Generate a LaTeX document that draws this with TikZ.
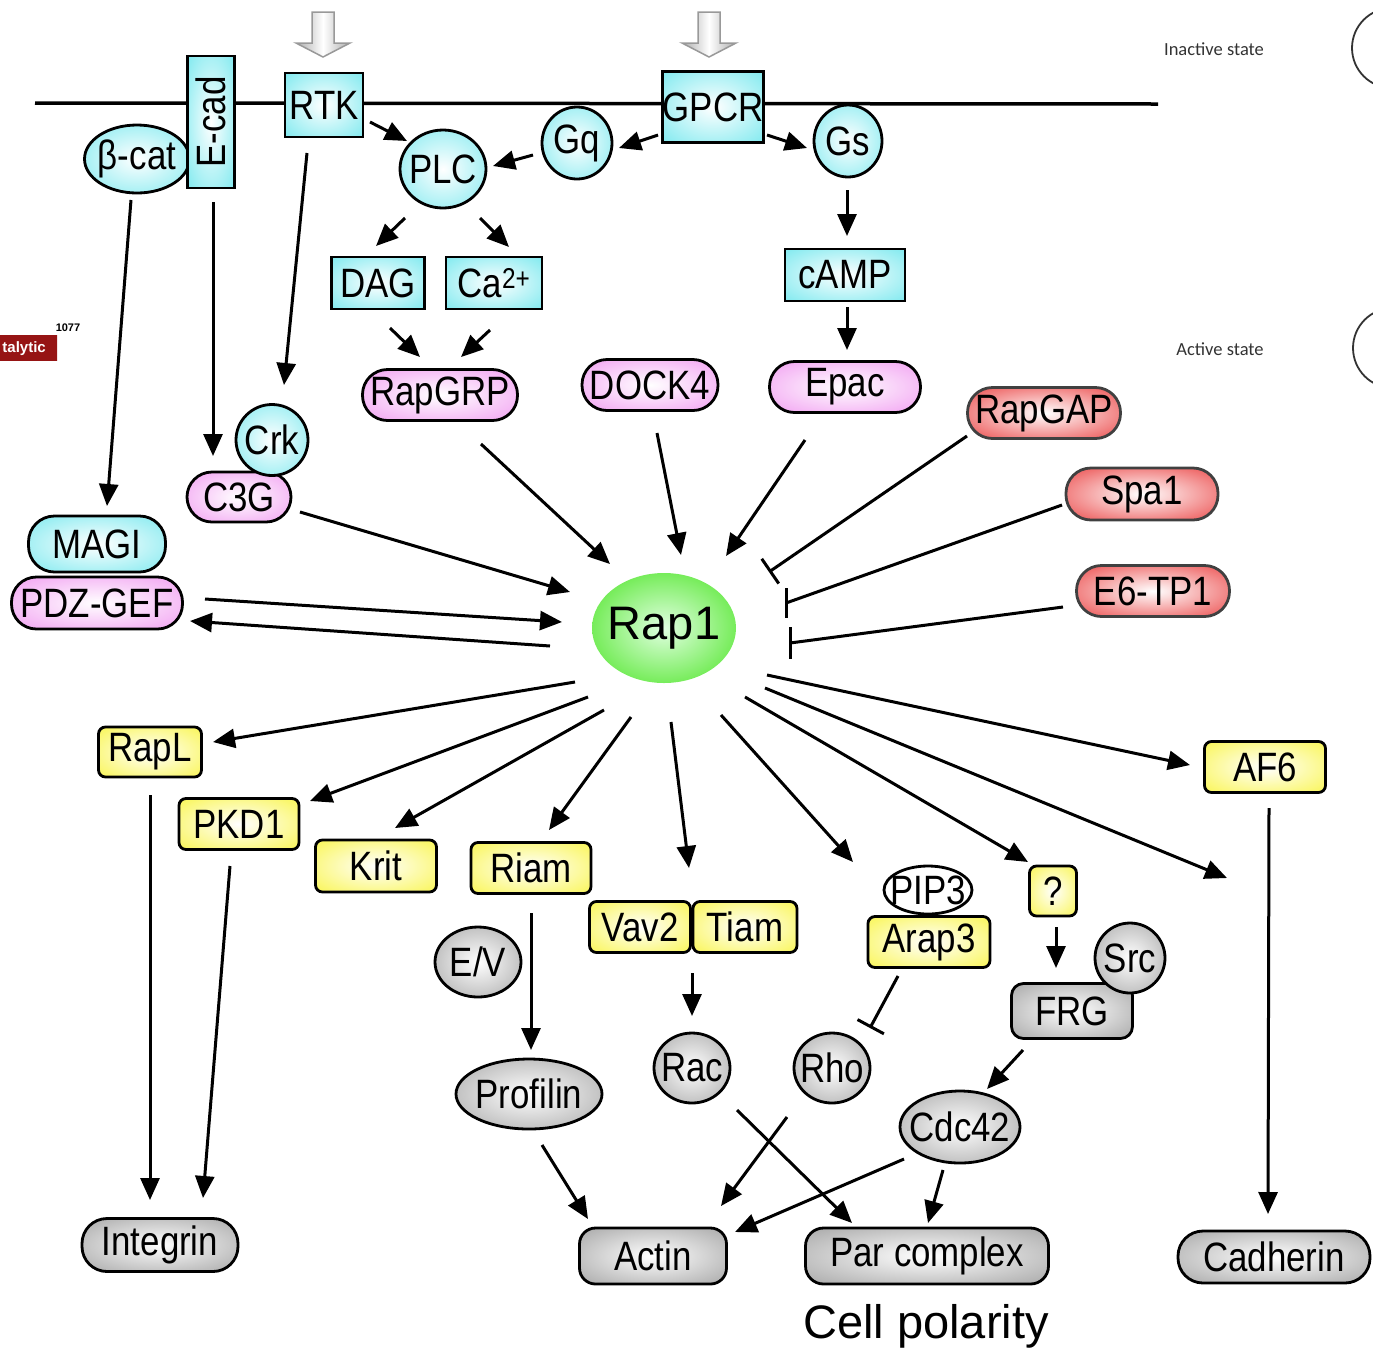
\documentclass[tikz,border=0pt]{standalone}
\usepackage{fontspec}
\setmainfont{Liberation Sans}
\newfontfamily\labfam[FakeStretch=0.85]{Liberation Sans}
\newfontfamily\notefam{Carlito}
\usetikzlibrary{arrows.meta,shapes.geometric}

\definecolor{cyanC}{RGB}{95,228,235}
\definecolor{pinkC}{RGB}{238,135,238}
\definecolor{redC}{RGB}{232,45,45}
\definecolor{yelC}{RGB}{248,243,40}
\definecolor{grayC}{RGB}{145,145,145}
\definecolor{greenC}{RGB}{55,225,10}
\definecolor{catC}{RGB}{150,20,20}

\newcommand\zw[1]{\makebox[0pt]{#1}}

\pgfdeclareradialshading{cyanshade}{\pgfpoint{0bp}{0bp}}{color(0bp)=(white); color(45bp)=(cyanC); color(50bp)=(cyanC)}
\pgfdeclareradialshading{pinkshade}{\pgfpoint{0bp}{0bp}}{color(0bp)=(white); color(45bp)=(pinkC); color(50bp)=(pinkC)}
\pgfdeclareradialshading{redshade}{\pgfpoint{0bp}{0bp}}{color(0bp)=(white); color(42bp)=(redC); color(50bp)=(redC)}
\pgfdeclareradialshading{yelshade}{\pgfpoint{0bp}{0bp}}{color(0bp)=(white); color(45bp)=(yelC); color(50bp)=(yelC)}
\pgfdeclareradialshading{grayshade}{\pgfpoint{0bp}{0bp}}{color(0bp)=(white); color(45bp)=(grayC); color(50bp)=(grayC)}
\pgfdeclareradialshading{greenshade}{\pgfpoint{0bp}{0bp}}{color(0bp)=(green!12!white); color(40bp)=(greenC); color(50bp)=(greenC)}
\pgfdeclarehorizontalshading{catshade}{100bp}{color(0bp)=(catC); color(80bp)=(catC); color(90bp)=(orange!70!catC); color(100bp)=(orange!40!white)}

\tikzset{
 lbl/.style={font=\labfam\fontsize{41}{44}\selectfont, text=black, inner sep=0pt, line width=2.8pt, draw=black},
 cybox/.style={lbl, rectangle, shading=cyanshade},
 cyell/.style={lbl, ellipse, shading=cyanshade},
 cypill/.style={lbl, rectangle, rounded corners=26pt, shading=cyanshade},
 pkpill/.style={lbl, rectangle, rounded corners=25pt, shading=pinkshade},
 rdpill/.style={lbl, rectangle, rounded corners=25pt, draw=black!75, shading=redshade},
 ybox/.style={lbl, rectangle, rounded corners=7pt, shading=yelshade},
 gyell/.style={lbl, ellipse, shading=grayshade},
 gypill/.style={lbl, rectangle, rounded corners=25pt, shading=grayshade},
 gybox/.style={lbl, rectangle, rounded corners=12pt, shading=grayshade},
 whell/.style={lbl, ellipse, fill=white},
 act/.style={line width=3pt, -{Triangle[length=22pt,width=19pt]}},
 inh/.style={line width=3pt, -{Bar[width=30pt]}},
 plainln/.style={line width=3pt},
 hollow/.style={draw=gray!80, line width=1.5pt, left color=gray!65, right color=gray!65, middle color=white},
 note/.style={font=\notefam\fontsize{18.5}{20}\selectfont, text=black!80, inner sep=0pt},
}

\begin{document}
\begin{tikzpicture}[x=1pt,y=-1pt]
\useasboundingbox (0,0) rectangle (1373,1353);

% membrane
\draw[line width=3.5pt] (35,103) -- (1158,104);

% hollow input arrows
\path[hollow] (312,12) -- (334,12) -- (334,43) -- (350,43) -- (323,57) -- (296,43) -- (312,43) -- cycle;
\path[hollow] (698,12) -- (720,12) -- (720,43) -- (736,43) -- (709,57) -- (682,43) -- (698,43) -- cycle;

% top nodes
\node[cyell, minimum width=105pt, minimum height=68pt] (bcat) at (137,159) {\zw{β-cat}};
\node[cybox, rotate=90, minimum width=132pt, minimum height=47pt] (ecad) at (211,122) {E-cad};
\node[cybox, minimum width=78pt, minimum height=64pt] (rtk) at (324,105) {RTK};
\node[cyell, minimum width=86pt, minimum height=78pt] (plc) at (443,169) {\zw{PLC}};
\node[cyell, minimum width=70pt, minimum height=72pt] (gq) at (577,143) {\zw{Gq}};
\node[cybox, minimum width=97pt, minimum height=71pt] (gpcr) at (713,107) {GPCR};
\node[cyell, minimum width=68pt, minimum height=72pt] (gs) at (848,141) {\zw{Gs}};
\node[cybox, minimum width=93pt, minimum height=52pt] (dag) at (378,283) {DAG};
\node[cybox, minimum width=96pt, minimum height=52pt] (ca) at (494,283) {Ca\textsuperscript{2+}};
\node[cybox, minimum width=120pt, minimum height=52pt] (camp) at (845,275) {cAMP};

% GEFs
\node[pkpill, minimum width=155pt, minimum height=51pt] (rapgrp) at (440,395) {RapGRP};
\node[pkpill, minimum width=136pt, minimum height=51pt] (dock4) at (650,385) {DOCK4};
\node[pkpill, minimum width=151pt, minimum height=51pt] (epac) at (845,387) {Epac};
\node[pkpill, minimum width=104pt, minimum height=50pt] (c3g) at (239,497) {C3G};
\node[cyell, minimum width=72pt, minimum height=71pt] (crk) at (272,440) {\zw{Crk}};
\node[cypill, minimum width=137pt, minimum height=56pt] (magi) at (97,544) {MAGI};
\node[pkpill, minimum width=171pt, minimum height=52pt] (pdz) at (97,603) {PDZ-GEF};

% GAPs
\node[rdpill, minimum width=153pt, minimum height=51pt] (rapgap) at (1044,413) {RapGAP};
\node[rdpill, minimum width=152pt, minimum height=52pt] (spa1) at (1142,494) {Spa1};
\node[rdpill, minimum width=153pt, minimum height=51pt] (e6) at (1153,591) {E6-TP1};

% Rap1
\node[ellipse, shading=greenshade, inner sep=0pt, minimum width=144pt, minimum height=110pt, font=\fontsize{47}{50}\selectfont] (rap1) at (664,628) {\zw{Rap1}};

% effectors
\node[ybox, minimum width=103pt, minimum height=50pt] (rapl) at (150,752) {RapL};
\node[ybox, minimum width=120pt, minimum height=51pt] (pkd1) at (239,824) {PKD1};
\node[ybox, minimum width=121pt, minimum height=52pt] (krit) at (376,866) {Krit};
\node[ybox, minimum width=120pt, minimum height=51pt] (riam) at (531,868) {Riam};
\node[ybox, minimum width=101pt, minimum height=51pt] (vav2) at (640,927) {Vav2};
\node[ybox, minimum width=104pt, minimum height=51pt] (tiam) at (745,927) {Tiam};
\node[ybox, minimum width=122pt, minimum height=51pt] (arap3) at (929,942) {Arap3};
\node[whell, minimum width=88pt, minimum height=48pt] (pip3) at (928,890) {\zw{PIP3}};
\node[ybox, minimum width=47pt, minimum height=50pt] (q) at (1053,891) {?};
\node[gybox, minimum width=121pt, minimum height=55pt] (frg) at (1072,1011) {FRG};
\node[gyell, minimum width=70pt, minimum height=70pt] (src) at (1130,958) {\zw{Src}};
\node[ybox, minimum width=121pt, minimum height=51pt] (af6) at (1265,767) {AF6};

% downstream
\node[gyell, minimum width=86pt, minimum height=70pt] (ev) at (478,962) {\zw{E/V}};
\node[gyell, minimum width=146pt, minimum height=70pt] (profilin) at (529,1094) {\zw{Profilin}};
\node[gyell, minimum width=76pt, minimum height=70pt] (rac) at (692,1068) {\zw{Rac}};
\node[gyell, minimum width=76pt, minimum height=70pt] (rho) at (832,1068) {\zw{Rho}};
\node[gyell, minimum width=120pt, minimum height=72pt] (cdc42) at (960,1127) {\zw{Cdc42}};
\node[gypill, minimum width=156pt, minimum height=53pt] (integrin) at (160,1245) {Integrin};
\node[gybox, rounded corners=16pt, minimum width=147pt, minimum height=56pt] (actin) at (653,1256) {Actin};
\node[gybox, rounded corners=18pt, minimum width=243pt, minimum height=56pt] (par) at (927,1256) {Par complex};
\node[gypill, minimum width=192pt, minimum height=52pt] (cadherin) at (1274,1257) {Cadherin};

\node[inner sep=0pt, font=\fontsize{47}{50}\selectfont] (cellpol) at (926,1326) {Cell polarity};

% side annotations
\node[note] (inact) at (1214,49) {Inactive state};
\node[note] (actst) at (1220,349) {Active state};
\node[circle, draw=black!80, line width=1.8pt, minimum size=80pt] (inactc) at (1392,48) {};
\node[circle, draw=black!80, line width=1.8pt, minimum size=80pt] (actc) at (1393,348) {};
\node[shading=catshade, minimum width=58pt, minimum height=25pt, inner sep=0pt] (catal) at (28,348) {};
\node[anchor=east, text=white, font=\bfseries\fontsize{15}{16}\selectfont, inner sep=0pt] (catt) at (46,349) {talytic};
\node[font=\bfseries\fontsize{11}{12}\selectfont, inner sep=0pt] (num) at (68,328) {1077};

\coordinate (freeend) at (1227,878);

% connectors: upstream
\draw[act] ([shift={(46,17)}]rtk.center) -- ([shift={(-36,-28)}]plc.center);
\draw[act] ([shift={(-44,12)}]gq.center) -- ([shift={(50,-3)}]plc.center);
\draw[act] ([shift={(-55,28)}]gpcr.center) -- ([shift={(42,5)}]gq.center);
\draw[act] ([shift={(54,28)}]gpcr.center) -- ([shift={(-41,7)}]gs.center);
\draw[act] ([shift={(-38,49)}]plc.center) -- ([shift={(-2,-37)}]dag.center);
\draw[act] ([shift={(37,49)}]plc.center) -- ([shift={(15,-36)}]ca.center);
\draw[act] ([shift={(12,45)}]dag.center) -- ([shift={(-20,-38)}]rapgrp.center);
\draw[act] ([shift={(-4,47)}]ca.center) -- ([shift={(21,-38)}]rapgrp.center);
\draw[act] ([shift={(-1,49)}]gs.center) -- ([shift={(2,-39)}]camp.center);
\draw[act] ([shift={(2,32)}]camp.center) -- ([shift={(2,-37)}]epac.center);
\draw[act] ([shift={(-6,41)}]bcat.center) -- ([shift={(10,-38)}]magi.center);
\draw[act] ([shift={(2,80)}]ecad.center) -- ([shift={(-26,-41)}]c3g.center);
\draw[act] ([shift={(-17,48)}]rtk.center) -- ([shift={(12,-55)}]crk.center);

% into Rap1
\draw[act] ([shift={(61,15)}]c3g.center) -- ([shift={(-94,-36)}]rap1.center);
\draw[act] ([shift={(41,49)}]rapgrp.center) -- ([shift={(-54,-64)}]rap1.center);
\draw[act] ([shift={(7,48)}]dock4.center) -- ([shift={(17,-73)}]rap1.center);
\draw[act] ([shift={(-40,53)}]epac.center) -- ([shift={(62,-72)}]rap1.center);
\draw[inh] ([shift={(-77,23)}]rapgap.center) -- ([shift={(105,-56)}]rap1.center);
\draw[plainln] ([shift={(-80,11)}]spa1.center) -- ([shift={(122,-25)}]rap1.center);
\draw[plainln] ([shift={(122,-40)}]rap1.center) -- ([shift={(122,-10)}]rap1.center);
\draw[plainln] ([shift={(-90,16)}]e6.center) -- ([shift={(126,15)}]rap1.center);
\draw[plainln] ([shift={(126,-1)}]rap1.center) -- ([shift={(126,31)}]rap1.center);
\draw[act] ([shift={(108,-4)}]pdz.center) -- ([shift={(-102,-6)}]rap1.center);
\draw[act] ([shift={(-114,18)}]rap1.center) -- ([shift={(93,18)}]pdz.center);

% out of Rap1
\draw[act] ([shift={(-89,54)}]rap1.center) -- ([shift={(63,-10)}]rapl.center);
\draw[act] ([shift={(-76,69)}]rap1.center) -- ([shift={(71,-23)}]pkd1.center);
\draw[act] ([shift={(-60,82)}]rap1.center) -- ([shift={(19,-38)}]krit.center);
\draw[act] ([shift={(-33,89)}]rap1.center) -- ([shift={(18,-38)}]riam.center);
\draw[act] ([shift={(7,94)}]rap1.center) -- ([shift={(49,-59)}]vav2.center);
\draw[act] ([shift={(57,87)}]rap1.center) -- ([shift={(-75,-28)}]pip3.center);
\draw[act] ([shift={(81,69)}]rap1.center) -- ([shift={(-25,-29)}]q.center);
\draw[act] ([shift={(101,60)}]rap1.center) -- (freeend);
\draw[act] ([shift={(103,47)}]rap1.center) -- ([shift={(-75,-2)}]af6.center);

% downstream
\draw[act] ([shift={(0,43)}]rapl.center) -- ([shift={(-10,-45)}]integrin.center);
\draw[act] ([shift={(-9,42)}]pkd1.center) -- ([shift={(43,-47)}]integrin.center);
\draw[act] ([shift={(0,45)}]riam.center) -- ([shift={(2,-44)}]profilin.center);
\draw[act] ([shift={(52,46)}]vav2.center) -- ([shift={(0,-52)}]rac.center);
\draw[inh] ([shift={(-31,34)}]arap3.center) -- ([shift={(38,-40)}]rho.center);
\draw[act] ([shift={(3,36)}]q.center) -- ([shift={(-16,-43)}]frg.center);
\draw[act] ([shift={(-49,39)}]frg.center) -- ([shift={(27,-38)}]cdc42.center);
\draw[act] ([shift={(4,41)}]af6.center) -- ([shift={(-6,-43)}]cadherin.center);
\draw[act] ([shift={(13,51)}]profilin.center) -- ([shift={(-65,-37)}]actin.center);
\draw[act] ([shift={(-45,49)}]rho.center) -- ([shift={(68,-50)}]actin.center);
\draw[act] ([shift={(45,42)}]rac.center) -- ([shift={(-75,-33)}]par.center);
\draw[act] ([shift={(-56,32)}]cdc42.center) -- ([shift={(82,-24)}]actin.center);
\draw[act] ([shift={(-17,43)}]cdc42.center) -- ([shift={(1,-33)}]par.center);
\end{tikzpicture}
\end{document}
